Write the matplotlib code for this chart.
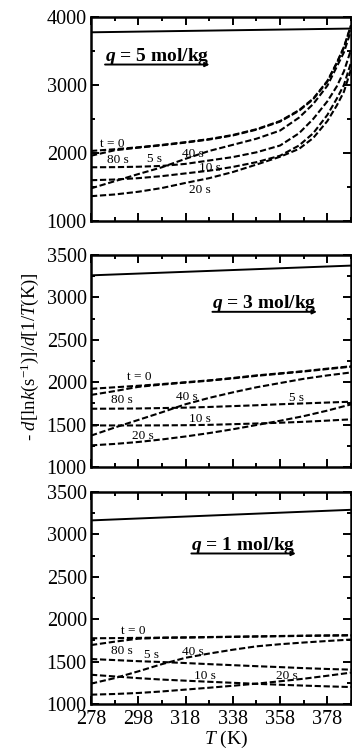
import matplotlib
matplotlib.use('Agg')
import matplotlib.pyplot as plt
import numpy as np
from matplotlib.ticker import FixedLocator, MultipleLocator

plt.rcParams['font.family'] = ['Liberation Serif', 'DejaVu Serif']
plt.rcParams['mathtext.fontset'] = 'custom'
plt.rcParams['mathtext.rm'] = 'Liberation Serif'
plt.rcParams['mathtext.it'] = 'Liberation Serif:italic'
plt.rcParams['mathtext.bf'] = 'Liberation Serif:bold'
plt.rcParams['mathtext.sf'] = 'Liberation Serif:bold:italic'

# ---------------- data ----------------
# q = 5 mol/kg
T_q5 = [278, 288, 298, 308, 318, 328, 338, 348, 358, 366, 372, 378, 382, 385, 388]
q5_t0 = [2030, 2055, 2085, 2120, 2160, 2205, 2265, 2350, 2470, 2630, 2800, 3060, 3330, 3560, 3880]
q5_80s = [1960, 2040, 2078, 2113, 2153, 2198, 2258, 2343, 2462, 2620, 2790, 3050, 3320, 3550, 3870]
q5_40s = [1480, 1585, 1690, 1790, 1915, 2030, 2120, 2210, 2330, 2520, 2720, 2990, 3270, 3480, 3800]
q5_5s = [1790, 1792, 1798, 1810, 1840, 1890, 1940, 2010, 2110, 2290, 2500, 2760, 2980, 3200, 3520]
q5_10s = [1600, 1610, 1630, 1660, 1700, 1740, 1795, 1865, 1960, 2110, 2290, 2560, 2800, 3000, 3330]
q5_20s = [1365, 1390, 1430, 1485, 1560, 1630, 1720, 1830, 1945, 2060, 2220, 2470, 2700, 2900, 3230]
q5_solid_T = [278, 388]
q5_solid = [3775, 3830]

# q = 3 mol/kg
T_q3 = [278, 288, 298, 308, 318, 328, 338, 348, 358, 368, 378, 388]
q3_t0 = [1922, 1940, 1958, 1978, 2000, 2022, 2050, 2080, 2105, 2130, 2160, 2188]
q3_80s = [1850, 1895, 1945, 1972, 1995, 2018, 2045, 2075, 2100, 2126, 2155, 2183]
q3_40s = [1370, 1465, 1555, 1645, 1740, 1815, 1880, 1940, 1990, 2040, 2080, 2115]
q3_5s = [1687, 1688, 1690, 1695, 1700, 1708, 1718, 1728, 1740, 1750, 1760, 1770]
q3_10s = [1490, 1490, 1490, 1491, 1493, 1497, 1505, 1513, 1522, 1533, 1547, 1562]
q3_20s = [1255, 1272, 1295, 1325, 1360, 1400, 1445, 1495, 1545, 1600, 1665, 1738]
q3_solid_T = [278, 388]
q3_solid = [3260, 3375]

# q = 1 mol/kg
T_q1 = [278, 288, 298, 308, 318, 328, 338, 348, 358, 368, 378, 388]
q1_t0 = [1775, 1777, 1780, 1783, 1786, 1790, 1794, 1798, 1802, 1806, 1809, 1812]
q1_80s = [1695, 1735, 1770, 1780, 1783, 1787, 1791, 1795, 1799, 1803, 1806, 1809]
q1_40s = [1240, 1305, 1385, 1470, 1545, 1595, 1640, 1680, 1705, 1725, 1743, 1760]
q1_5s = [1530, 1518, 1505, 1495, 1483, 1470, 1458, 1446, 1435, 1423, 1413, 1405]
q1_10s = [1345, 1325, 1305, 1288, 1275, 1262, 1250, 1238, 1227, 1217, 1208, 1200]
q1_20s = [1110, 1118, 1130, 1148, 1170, 1192, 1215, 1240, 1268, 1298, 1333, 1370]
q1_solid_T = [278, 388]
q1_solid = [3165, 3290]

curve_names = ["t = 0", "80 s", "40 s", "5 s", "10 s", "20 s"]
panel_q = ["5", "3", "1"]
x_major = [278, 298, 318, 338, 358, 378]

# ---------------- figure ----------------
fig = plt.figure(figsize=(3.52, 7.51), dpi=100)
W, H = 352.0, 751.0
left = 91 / W
width = (351 - 91) / W

def make_ax(top_px, bot_px):
    return fig.add_axes([left, 1 - bot_px / H, width, (bot_px - top_px) / H])

ax5 = make_ax(17, 221)
ax3 = make_ax(255, 467)
ax1 = make_ax(492, 704)

dash = (0, (3.0, 1.3))
lw_d = 1.5

panels = [
    (ax5, T_q5, [q5_t0, q5_80s, q5_40s, q5_5s, q5_10s, q5_20s], q5_solid_T, q5_solid, (1000, 4000), 1000, 500),
    (ax3, T_q3, [q3_t0, q3_80s, q3_40s, q3_5s, q3_10s, q3_20s], q3_solid_T, q3_solid, (1000, 3500), 500, 250),
    (ax1, T_q1, [q1_t0, q1_80s, q1_40s, q1_5s, q1_10s, q1_20s], q1_solid_T, q1_solid, (1000, 3500), 500, 250),
]

for ax, T, curves, sT, sV, ylim, ymaj, ymin in panels:
    for c in curves:
        ax.plot(T, c, color='black', lw=lw_d, linestyle=dash)
    ax.plot(sT, sV, color='black', lw=1.4)
    ax.set_xlim(278, 388)
    ax.set_ylim(*ylim)
    ax.xaxis.set_major_locator(FixedLocator(x_major))
    ax.xaxis.set_minor_locator(FixedLocator([288, 308, 328, 348, 368, 388]))
    ax.yaxis.set_major_locator(MultipleLocator(ymaj))
    ax.yaxis.set_minor_locator(MultipleLocator(ymin))
    ax.tick_params(which='both', direction='in', top=True, right=True, width=1.4)
    ax.tick_params(which='major', length=5.5, labelsize=14.5, pad=3)
    ax.tick_params(which='minor', length=3)
    for s in ax.spines.values():
        s.set_linewidth(1.8)

ax5.tick_params(labelbottom=False)
ax3.tick_params(labelbottom=False)
ax1.tick_params(axis='x', pad=4)

# curve labels (data coordinates)
lab_fs = 9.5
labels5 = [("t = 0", 287, 2130), ("80 s", 289.5, 1895), ("5 s", 305, 1915),
           ("40 s", 321, 1990), ("10 s", 328.5, 1785), ("20 s", 324, 1455)]
labels3 = [("t = 0", 298.5, 2060), ("80 s", 291, 1785), ("40 s", 318.5, 1825),
           ("5 s", 365, 1815), ("10 s", 324, 1562), ("20 s", 300, 1365)]
labels1 = [("t = 0", 296, 1863), ("80 s", 291, 1628), ("5 s", 303.5, 1578),
           ("40 s", 321, 1610), ("10 s", 326, 1335), ("20 s", 361, 1335)]
for ax, labs in [(ax5, labels5), (ax3, labels3), (ax1, labels1)]:
    for txt, x, y in labs:
        ax.text(x, y, txt, fontsize=lab_fs, ha='center', va='center')

# panel titles with underline arrow
title_specs = [
    (ax5, panel_q[0], 0.054, 0.785),
    (ax3, panel_q[1], 0.467, 0.750),
    (ax1, panel_q[2], 0.386, 0.728),
]
fig.canvas.draw()
renderer = fig.canvas.get_renderer()
for ax, qv, x0, yb in title_specs:
    t = ax.text(x0, yb, r"$\mathsf{q}$ = " + qv + " mol/kg", transform=ax.transAxes,
                fontsize=14, fontweight='bold', ha='left', va='baseline')
    bb = t.get_window_extent(renderer=renderer)
    bba = bb.transformed(ax.transAxes.inverted())
    yu = yb - 0.018
    ax.annotate('', xy=(bba.x1, yu), xytext=(x0, yu), xycoords='axes fraction',
                arrowprops=dict(arrowstyle='-|>', lw=1.4, color='black',
                                mutation_scale=6, shrinkA=0, shrinkB=0))

fig.text(30 / W, 1 - 357 / H, r"- $d$[ln$k$(s$^{-1}$)]/$d$[1/$T$(K)]",
         rotation=90, ha='center', va='center', fontsize=13.5)
fig.text(226 / W, 1 - 739 / H, r"$T$ (K)", ha='center', va='center', fontsize=14)

fig.savefig('out.png', dpi=100)
